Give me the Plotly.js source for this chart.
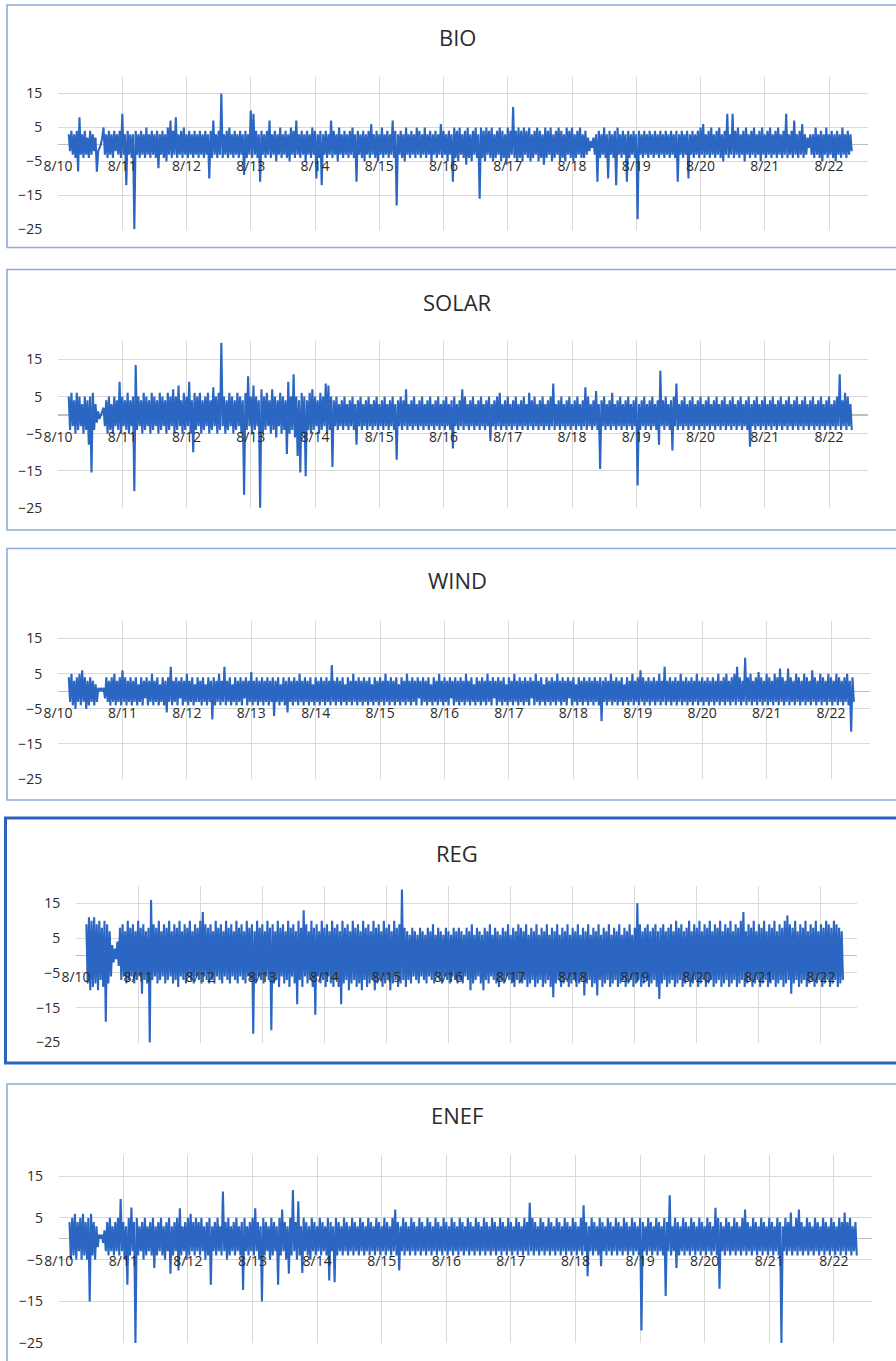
<!DOCTYPE html>
<html><head><meta charset="utf-8">
<script src="https://cdn.plot.ly/plotly-3.0.1.min.js"></script>
<style>html,body{margin:0;padding:0;background:#fff;}#chart{width:896px;height:1361px;}</style>
</head><body><div id="chart"></div><script>
// ---- data ----
const seriesNames = ['BIO', 'SOLAR', 'WIND', 'REG', 'ENEF'];
const dayDates = ['2020-08-10','2020-08-11','2020-08-12','2020-08-13','2020-08-14','2020-08-15','2020-08-16','2020-08-17','2020-08-18','2020-08-19','2020-08-20','2020-08-21','2020-08-22'];
const dayLabels = ['8/10','8/11','8/12','8/13','8/14','8/15','8/16','8/17','8/18','8/19','8/20','8/21','8/22'];
const yTickVals = [15, 5, -5, -15, -25];
const startTime = '2020-08-10 04:00'; // first reading
const stepMs = 1800000;              // one reading every 30 minutes

const bio = [
3,-2,4,-3,3,-4,4,-8,8,-3,3,-4,4,-3,2,-4,4,-3,3,-2,2,-8,-2,-1,0,2,5,-3,3,-4,4,-3,3,-4,4,-2,3,-3,4,-4,9,-3,3,-12,4,-3,3,-4,
3,-25,4,-3,3,-4,4,-3,3,-4,5,-3,3,-4,4,-3,3,-4,4,-7,3,-3,4,-4,3,-5,5,-3,7,-4,4,-3,8,-4,3,-3,4,-4,5,-3,3,-4,4,-3,3,-4,4,-3,
3,-4,4,-3,3,-4,4,-3,3,-10,4,-4,7,-3,3,-4,4,-3,15,-4,3,-3,4,-4,5,-3,3,-4,4,-3,3,-4,4,-3,3,-9,4,-4,3,-3,10,-4,9,-3,4,-4,3,-11,
4,-3,3,-4,4,-3,7,-4,3,-3,4,-5,3,-3,5,-4,3,-3,4,-4,3,-5,5,-3,4,-4,7,-3,3,-4,4,-3,3,-5,4,-3,3,-4,5,-3,4,-10,3,-4,4,-12,3,-3,
4,-4,3,-3,7,-4,4,-3,3,-5,5,-3,3,-4,4,-3,3,-4,4,-3,5,-4,3,-11,4,-3,3,-4,4,-5,3,-3,4,-4,6,-3,3,-4,4,-5,3,-3,5,-4,3,-3,4,-4,
3,-3,7,-4,4,-18,3,-3,4,-4,3,-5,5,-3,3,-4,4,-3,3,-4,5,-3,4,-4,3,-3,5,-4,3,-3,4,-5,3,-3,4,-4,3,-3,6,-4,4,-3,3,-5,4,-3,3,-11,
5,-4,4,-5,5,-3,3,-4,4,-6,5,-4,3,-5,4,-3,5,-4,3,-16,5,-4,4,-5,5,-3,4,-4,5,-5,3,-4,4,-3,5,-5,4,-4,3,-6,5,-4,4,-3,11,-4,4,-5,
5,-4,4,-5,5,-3,4,-4,5,-5,3,-4,4,-3,5,-5,4,-4,3,-6,5,-4,4,-3,5,-5,3,-4,4,-3,5,-5,4,-4,3,-5,5,-3,4,-4,5,-5,3,-4,4,-3,5,-4,
3,-4,4,-3,2,-2,1,-1,2,-3,3,-11,4,-4,3,-3,5,-4,3,-10,4,-3,3,-4,4,-12,5,-3,3,-4,4,-3,3,-11,4,-4,3,-3,4,-4,3,-22,4,-3,3,-4,4,-3,
3,-4,4,-3,3,-4,4,-3,3,-4,4,-3,3,-4,4,-3,3,-4,4,-3,3,-4,4,-11,3,-3,4,-4,3,-3,4,-10,3,-3,4,-4,3,-3,4,-4,5,-3,6,-4,3,-3,4,-4,
5,-3,3,-4,4,-3,5,-4,3,-5,4,-3,9,-4,3,-3,9,-4,4,-3,5,-4,3,-3,4,-5,5,-3,3,-4,4,-3,5,-4,3,-3,4,-5,5,-3,3,-4,4,-3,5,-4,3,-3,
4,-4,5,-3,3,-4,4,-3,9,-4,3,-3,4,-4,7,-3,3,-4,4,-3,6,-4,3,-3,2,-1,3,-3,3,-4,5,-3,3,-4,4,-5,3,-3,5,-4,3,-3,4,-4,3,-5,4,-3,
3,-4,5,-3,3,-4,4,-3,3,-2];

const solar = [
5,-4,6,-3,4,-5,6,-4,5,-3,3,-5,5,-4,4,-8,5,-15.5,6,-4,3,-2,1,-1,0,1,2,-3,4,-5,5,-4,3,-5,5,-3,4,-4,9,-5,5,-3,4,-4,6,-5,4,-3,
5,-20.5,13.5,-4,5,-3,4,-5,6,-4,5,-3,4,-5,6,-4,5,-3,4,-5,6,-4,5,-3,4,-5,6,-4,5,-3,7,-5,5,-4,8,-3,4,-5,6,-4,5,-3,9,-5,4,-10,6,-4,
5,-3,6,-5,4,-4,5,-3,6,-5,4,-4,7.5,-3,5,-5,6,-4,19.5,-3,5,-5,4,-4,6,-3,5,-5,4,-4,6,-3,5,-5,4,-21.5,6,-4,10.5,-3,5,-5,8,-4,5,-3,4,-25,
7,-5,5,-4,6,-3,4,-5,7,-4,5,-6,4,-3,6,-5,5,-4,4,-10.5,9,-5,5,-4,11,-6,5,-11,4,-15.5,6,-5,5,-16.5,4,-4,6,-5,7,-4,5,-3,4,-5,6,-4,5,-3,
8.5,-5,8,-4,5,-14,4,-3,5,-4,3,-3,4,-4,5,-3,3,-4,4,-3,5,-4,3,-8,4,-3,5,-4,3,-3,4,-4,5,-3,3,-4,4,-3,5,-4,3,-3,4,-4,5,-3,3,-4,
4,-3,5,-4,3,-12,4,-3,5,-4,4,-3,7,-4,3,-3,4,-4,5,-3,3,-4,4,-3,5,-4,3,-3,4,-4,5,-3,3,-4,4,-3,5,-4,3,-3,4,-4,5,-3,3,-4,4,-9,
5,-3,3,-4,4,-3,7,-4,5,-3,3,-4,4,-3,5,-4,3,-3,4,-4,5,-3,3,-4,4,-3,5,-7,3,-3,4,-4,5,-3,6,-4,3,-3,4,-4,5,-3,3,-4,4,-3,5,-4,
3,-3,4,-4,5,-3,3,-4,6,-3,4,-4,5,-3,3,-4,4,-3,5,-4,3,-3,4,-4,5,-3,8.5,-4,3,-3,4,-4,5,-3,3,-4,4,-3,5,-4,3,-3,4,-4,5,-3,3,-4,
4,-3,7.5,-4,5,-3,3,-4,4,-3,6.5,-4,3,-14.5,4,-3,5,-4,3,-3,4,-4,6,-3,3,-4,4,-3,5,-4,3,-3,4,-4,5,-3,3,-4,4,-3,5,-19,3,-4,4,-3,5,-4,
3,-3,4,-4,5,-3,3,-4,4,-8,12,-3,4,-4,5,-3,3,-4,4,-9.5,5,-3,8.5,-4,3,-3,4,-4,5,-3,3,-4,4,-3,5,-4,3,-3,4,-4,5,-3,3,-4,4,-3,5,-4,
3,-3,4,-4,5,-3,3,-4,4,-3,5,-4,3,-3,4,-4,5,-3,3,-4,4,-3,5,-4,3,-3,4,-4,5,-8.5,3,-3,4,-4,5,-3,3,-4,4,-3,5,-4,3,-3,4,-4,5,-3,
3,-4,4,-3,5,-4,3,-3,4,-4,5,-3,3,-4,4,-3,5,-4,3,-3,4,-4,5,-3,3,-4,4,-3,5,-4,3,-3,4,-4,5,-3,3,-4,4,-3,5,-4,3,-3,4,-4,5,-3,
11,-4,4,-3,6,-4,5,-3,3,-4];

const wind = [
4,-3,5,-4,3,-5,4,-3,5,-4,6,-3,4,-5,3,-4,4,-3,3,-4,2,-3,1,0,1,0,1,-2,4,-3,3,-4,4,-3,5,-4,3,-3,4,-4,6,-3,4,-4,3,-3,4,-4,
3,-3,4,-4,2,-3,4,-4,3,-2,4,-4,3,-3,5,-4,3,-3,4,-4,2,-3,4,-4,3,-6,4,-3,7,-4,3,-3,4,-4,3,-2,4,-4,3,-3,5,-4,3,-3,4,-4,2,-3,
4,-3,3,-4,4,-3,2,-4,4,-3,3,-8,4,-4,3,-3,5,-4,3,-3,7,-4,3,-3,4,-4,2,-3,4,-4,3,-3,4,-4,3,-2,4,-4,3,-3,5.5,-4,3,-3,4,-4,3,-3,
4,-4,3,-3,4,-4,3,-3,4,-7,3,-3,4,-4,2,-3,4,-4,3,-6,4,-3,3,-4,4,-3,3,-4,5,-3,3,-4,4,-3,3,-4,4,-3,2,-4,4,-3,3,-4,4,-3,3,-4,
4,-3,3,-4,7.5,-3,3,-4,4,-3,3,-4,4,-3,2,-4,4,-3,3,-4,5,-3,3,-4,4,-3,3,-4,4,-3,3,-4,4,-3,2,-4,4,-3,3,-4,4,-3,3,-4,5,-3,3,-4,
4,-3,3,-4,4,-3,2,-4,4,-3,3,-4,5,-3,3,-4,4,-3,3,-4,4,-2,3,-4,4,-3,3,-4,4,-3,2,-4,4,-3,3,-4,5,-3,3,-4,4,-3,3,-4,4,-2,3,-4,
4,-3,3,-4,4,-3,3,-4,5,-3,3,-4,4,-3,2,-4,4,-3,3,-4,4,-3,3,-4,5,-3,3,-4,4,-2,3,-4,4,-3,3,-4,4,-3,2,-4,4,-3,3,-4,5,-3,3,-4,
4,-3,3,-4,4,-3,3,-4,4,-2,3,-4,5,-3,3,-4,4,-3,2,-4,4,-3,3,-4,4,-3,3,-4,5,-3,3,-4,4,-3,3,-4,4,-2,3,-4,4,-3,2,-4,4,-3,3,-4,
4,-3,3,-4,4,-3,3,-4,4,-3,3,-4,4,-8.5,3,-3,4,-4,3,-3,5,-4,3,-3,4,-4,3,-3,4,-4,2,-3,4,-4,3,-3,5,-4,3,-3,4,-4,6,-3,4,-4,3,-3,
4,-4,3,-3,4,-4,3,-3,5,-4,3,-3,7,-4,3,-3,4,-4,3,-3,4,-4,3,-3,5,-4,3,-3,4,-4,3,-3,4,-4,3,-3,5,-4,3,-3,4,-4,3,-3,4,-4,3,-3,
4,-4,3,-3,5,-4,3,-3,4,-4,5,-3,3,-4,4,-3,5,-4,7,-3,4,-4,3,-3,9.5,-4,4,-3,5,-4,3,-3,4,-4,5.5,-3,4,-4,3,-3,5,-4,4,-3,3,-4,5,-3,
4,-4,6.5,-3,4,-4,3,-3,6.5,-4,4,-3,3,-4,5,-3,4,-4,3,-3,5,-4,4,-3,3,-4,6,-3,4,-4,3,-3,5,-4,4,-3,3,-4,5,-3,4,-4,3,-3,5,-4,4,-3,
3,-4,4,-3,5,-4,3,-11.5,4,-3];

const reg = [
9,-8,11,-10,10,-9,11,-8,9,-10,10,-7,8,-9,10,-19,9,-8,7,-6,3,-2,2,-1,4,-3,8,-7,9,-6,7,-8,10,-7,8,-6,9,-8,7,-7,10,-6,8,-11,9,-7,7,-8,
8,-25,16,-7,9,-6,8,-8,10,-7,7,-6,9,-8,8,-7,10,-6,7,-8,9,-7,8,-9,10,-6,7,-7,9,-8,8,-6,10,-7,7,-8,9,-6,8,-7,10,-8,12.5,-6,9,-7,8,-8,
9,-7,7,-8,10,-6,8,-7,9,-8,7,-6,10,-7,8,-8,9,-6,7,-7,10,-8,8,-6,9,-7,7,-8,10,-6,8,-7,9,-22.5,7,-8,10,-6,8,-7,9,-8,7,-6,10,-7,8,-21.5,
9,-8,7,-7,10,-9,8,-6,9,-8,7,-7,10,-9,8,-6,9,-8,7,-14,10,-7,8,-9,13,-6,9,-8,7,-7,10,-9,8,-17,9,-6,7,-8,10,-7,8,-9,9,-6,7,-8,10,-9,
8,-7,9,-9,7,-14,10,-8,8,-7,9,-10,7,-8,10,-7,8,-9,9,-8,7,-10,10,-7,8,-9,9,-8,7,-7,10,-10,8,-8,9,-7,7,-9,10,-8,8,-7,9,-10,7,-8,10,-7,
8,-9,9,-8,19,-7,8,-9,7,-7,6,-8,8,-6,7,-7,6,-8,8,-6,7,-7,6,-8,8,-6,7,-7,9,-8,6,-6,8,-7,7,-8,6,-6,8,-7,7,-8,6,-6,8,-7,7,-8,
8,-7,7,-8,6,-6,8,-7,7,-10,9,-8,6,-7,8,-6,7,-8,6,-10,8,-7,7,-8,9,-6,6,-7,8,-8,7,-9,6,-7,8,-8,7,-6,9,-7,6,-8,8,-9,7,-7,9,-8,
8,-8,7,-7,9,-9,6,-8,8,-7,7,-9,9,-8,6,-7,8,-9,7,-8,9,-7,6,-9,8,-12,7,-8,9,-7,6,-9,8,-8,7,-7,9,-9,6,-8,8,-7,7,-9,9,-8,6,-7,
8,-11.5,7,-8,9,-7,6,-9,8,-8,7,-11.5,9,-7,6,-9,8,-8,7,-7,9,-9,6,-8,8,-7,7,-9,9,-8,6,-7,8,-9,7,-8,9,-7,6,-9,8,-8,15,-7,9,-9,7,-8,
8,-7,9,-9,7,-8,8,-7,9,-9,7,-12.5,8,-8,9,-7,7,-9,8,-8,9,-7,7,-9,10,-8,8,-7,9,-9,7,-8,8,-7,10,-9,7,-8,9,-7,8,-9,10,-8,7,-7,9,-9,
8,-8,10,-7,7,-9,9,-8,8,-7,10,-9,7,-8,9,-7,8,-9,10,-8,7,-7,9,-9,8,-8,10,-7,12.5,-9,7,-8,9,-7,8,-9,10,-8,7,-7,9,-9,8,-8,10,-7,7,-9,
9,-8,8,-7,10,-9,7,-8,9,-7,8,-9,10,-8,11.5,-7,9,-11,8,-8,10,-7,7,-9,9,-8,8,-7,10,-9,7,-8,9,-7,8,-9,10,-8,7,-7,9,-9,8,-8,10,-7,9,-9,
8,-8,10,-7,9,-9,8,-8,7,-7];

const enef = [
4,-5,5,-4,6,-5,4,-3,5,-5,6,-4,4,-5,5,-15,6,-4,4,-5,3,-2,1,0,1,-1,2,-3,4,-4,5,-3,3,-4,4,-3,5,-4,9.5,-3,4,-5,3,-11,5,-4,7.5,-3,
4,-25,5,-4,3,-3,4,-5,5,-4,3,-3,4,-4,5,-7,3,-4,4,-3,5,-4,3,-5,4,-3,5,-8.4,3,-4,4,-3,5,-7.6,7.3,-4,3,-3,4,-5,5,-4,6,-3,4,-4,5,-3,
4,-4,5,-3,3,-5,4,-4,5,-11,3,-3,4,-4,5,-3,3,-4,11.3,-3,4,-5,5,-4,3,-3,4,-4,5,-3,3,-4,4,-12.3,5,-3,3,-4,4,-3,5,-4,7.3,-3,4,-5,3,-15,
5,-4,4,-3,3,-5,5,-4,4,-3,3,-11,5,-4,7,-3,4,-5,3,-8.4,5,-4,11.7,-3,4,-5,9,-4,3,-8.2,5,-3,4,-4,3,-5,5,-3,4,-4,3,-3,5,-4,4,-3,3,-4,
5,-10,4,-3,3,-10.4,5,-4,4,-3,3,-4,5,-3,4,-4,3,-3,5,-4,4,-3,3,-4,5,-3,4,-4,3,-3,5,-4,4,-3,3,-4,5,-3,4,-4,3,-3,5,-4,4,-3,3,-4,
5,-3,7,-4,4,-7.6,3,-3,5,-4,4,-3,3,-4,5,-3,4,-4,3,-3,5,-4,4,-3,3,-4,5,-3,4,-4,3,-3,5,-4,4,-3,3,-4,5,-3,4,-4,3,-3,5,-4,4,-3,
3,-4,5,-3,4,-4,3,-3,5,-4,4,-3,3,-4,5,-3,4,-4,3,-3,5,-4,4,-3,3,-4,5,-3,4,-4,3,-3,5,-4,4,-3,3,-4,5,-3,4,-4,3,-3,5,-4,4,-3,
3,-4,5,-3,4,-4,8.6,-3,5,-4,4,-3,3,-4,5,-3,4,-4,3,-3,5,-4,4,-3,3,-4,5,-3,4,-4,3,-3,5,-4,4,-3,3,-4,5,-3,4,-4,3,-3,5,-4,8,-3,
4,-9,3,-3,5,-4,4,-3,3,-4,5,-6.6,4,-3,3,-4,5,-3,4,-4,3,-3,5,-4,4,-3,3,-4,5,-3,4,-4,3,-3,5,-4,4,-3,3,-4,5,-22,4,-3,3,-4,5,-3,
4,-4,3,-3,5,-4,4,-3,3,-4,5,-13.7,4,-3,10.4,-4,3,-3,5,-7,4,-4,3,-3,5,-4,4,-3,3,-4,5,-3,4,-4,3,-3,5,-4,4,-3,3,-4,5,-3,4,-4,3,-3,
7.4,-4,5,-12,4,-3,3,-4,5,-3,4,-4,3,-3,5,-4,4,-3,3,-4,5,-3,7,-4,4,-3,3,-4,5,-3,4,-4,3,-3,5,-4,4,-3,3,-4,5,-3,4,-4,3,-3,5,-4,
4,-25,3,-3,5,-4,4,-3,6.3,-4,3,-3,5,-4,7,-3,4,-4,3,-3,5,-4,4,-3,3,-4,5,-3,4,-4,3,-3,5,-4,4,-3,3,-4,5,-3,4,-4,3,-3,5,-4,4,-3,
6.3,-4,4,-3,5,-4,3,-3,4,-4];

const seriesValues = [bio, solar, wind, reg, enef];

// ---- layout geometry (pixels) ----
const W = 896, H = 1361;
const DAY = 86400000;
const T0 = Date.UTC(2020, 7, 10);
const LINE = '#2a66c2';
const GRID = '#d9d9d9';
const TXT = '#2b2b2b';
const FONT = 'Open Sans, Liberation Sans, sans-serif';

// box: [left, top, right, bottom]; plot: [left, right, top(y=20), bottom(y=-25)]
const panels = [
  {box:[7, 5, 910, 247.5],    plot:[58, 868, 76.5, 229.5],  titleY:37,   xEnd:12.607, border:'#8eaadb', bw:1.6},
  {box:[7, 269.5, 910, 530],  plot:[58, 868, 341, 508],    titleY:302,  xEnd:12.607, border:'#8eaadb', bw:1.6},
  {box:[7, 548.5, 910, 800],  plot:[58, 870, 621, 779.3],  titleY:580,  xEnd:12.605, border:'#8eaadb', bw:1.6},
  {box:[5.5, 818, 910, 1063], plot:[76, 857, 886, 1042.7], titleY:853,  xEnd:12.58,  border:'#2e62c0', bw:3},
  {box:[7, 1084, 910, 1380],  plot:[58.7, 872, 1155.3, 1343.3], titleY:1115, xEnd:12.59, border:'#8eaadb', bw:1.6}
];

const data = [];
const layout = {
  width: W, height: H,
  margin: {l:0, r:0, t:0, b:0, pad:0},
  paper_bgcolor: '#ffffff', plot_bgcolor: 'rgba(0,0,0,0)',
  showlegend: false,
  font: {family: FONT, color: TXT, size: 14},
  shapes: [], annotations: []
};

panels.forEach((p, k) => {
  const n = k === 0 ? '' : String(k + 1);
  data.push({
    type: 'scatter', mode: 'lines',
    x0: startTime, dx: stepMs, y: seriesValues[k],
    xaxis: 'x' + n, yaxis: 'y' + n,
    line: {color: LINE, width: 2.1, simplify: false},
    hoverinfo: 'skip'
  });
  const [pl, pr, pt, pb] = p.plot;
  const zeroPx = pb - (pb - pt) * 25 / 45;
  layout['xaxis' + n] = {
    type: 'date', domain: [pl / W, pr / W], anchor: 'free', position: 1 - zeroPx / H,
    range: [T0 - 60000, T0 + p.xEnd * DAY],
    tickmode: 'array', tickvals: dayDates, ticktext: dayLabels,
    showgrid: true, gridcolor: GRID, gridwidth: 1,
    showline: false, zeroline: false,
    ticks: 'outside', ticklen: 9, tickcolor: 'rgba(0,0,0,0)',
    tickfont: {family: FONT, size: 14, color: TXT}, fixedrange: true
  };
  layout['yaxis' + n] = {
    domain: [1 - pb / H, 1 - pt / H], anchor: 'x' + n,
    range: [-25.05, 20], tickmode: 'array', tickvals: yTickVals,
    showgrid: true, gridcolor: GRID, gridwidth: 1,
    zeroline: true, zerolinecolor: '#bfbfbf', zerolinewidth: 1.4,
    showline: false,
    ticks: 'outside', ticklen: 12, tickcolor: 'rgba(0,0,0,0)',
    tickfont: {family: FONT, size: 14, color: TXT}, fixedrange: true
  };
  const [bl, bt, br, bb] = p.box;
  layout.shapes.push({
    type: 'rect', xref: 'paper', yref: 'paper', layer: 'below',
    x0: bl / W, x1: br / W, y0: 1 - bb / H, y1: 1 - bt / H,
    line: {color: p.border, width: p.bw}, fillcolor: 'rgba(0,0,0,0)'
  });
  layout.annotations.push({
    xref: 'paper', yref: 'paper', x: 457 / W, y: 1 - p.titleY / H,
    xanchor: 'center', yanchor: 'middle', showarrow: false,
    text: seriesNames[k], font: {family: FONT, size: 22, color: '#2b2b2b'}
  });
});

Plotly.newPlot('chart', data, layout, {staticPlot: true, displayModeBar: false});
</script></body></html>
